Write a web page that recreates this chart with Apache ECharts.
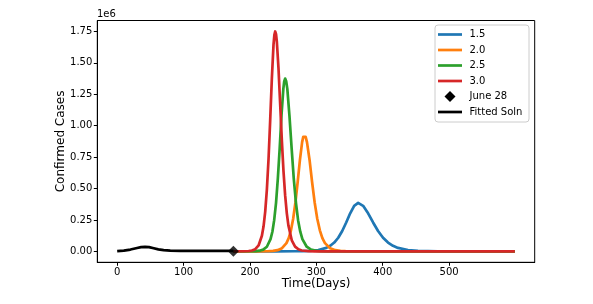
<!DOCTYPE html>
<html>
<head>
<meta charset="utf-8">
<script src="https://cdn.jsdelivr.net/npm/echarts@6/dist/echarts.min.js"></script>
<style>
html,body{margin:0;padding:0;background:#fff;}
#chart{width:593px;height:304px;}
</style>
</head>
<body>
<div id="chart"></div>
<script>
// Values in millions of confirmed cases (offset label "1e6"), x in days
const seriesNames = ['1.5', '2.0', '2.5', '3.0'];
const seriesColors = ['#1f77b4', '#ff7f0e', '#2ca02c', '#d62728'];

const blueData = [[175,0],[240,0.0001],[267,0.0005],[279,0.0014],[291,0.0038],[303,0.0102],[315,0.0272],[321,0.0438],[327,0.0696],[333,0.108],[339,0.1617],[345,0.2297],[351,0.3028],[357,0.3619],[363,0.385],[370.5,0.3619],[378,0.3028],[385.5,0.2297],[393,0.1617],[400.5,0.108],[408,0.0696],[415.5,0.0438],[423,0.0272],[438,0.0102],[453,0.0038],[468,0.0014],[483,0.0005],[513,0.0001],[599,0]];
const orangeData = [[175,0],[210,0.0002],[228,0.0012],[234.8,0.0034],[241.5,0.0091],[248.3,0.0246],[255,0.0654],[258.4,0.1053],[261.8,0.1671],[265.1,0.2594],[268.5,0.3885],[271.9,0.5519],[275.3,0.7274],[278.6,0.8695],[280.3,0.911],[282,0.925],[283.9,0.911],[285.9,0.8695],[289.8,0.7274],[293.6,0.5519],[297.5,0.3885],[301.4,0.2594],[305.3,0.1671],[309.1,0.1053],[313,0.0654],[320.8,0.0246],[328.5,0.0091],[336.3,0.0034],[344,0.0012],[359.5,0.0002],[599,0]];
const greenData = [[175,0],[195,0.0003],[209,0.0018],[214.5,0.005],[220,0.0136],[225.5,0.0366],[231,0.0972],[233.8,0.156],[236.5,0.248],[239.3,0.386],[242,0.578],[244.8,0.82],[247.5,1.081],[250.3,1.293],[251.6,1.353],[253,1.375],[254.6,1.354],[256.3,1.293],[259.5,1.081],[262.8,0.82],[266,0.578],[269.3,0.386],[272.5,0.248],[275.8,0.156],[279,0.0972],[285.5,0.0366],[292,0.0136],[298.5,0.005],[305,0.0018],[318,0.0002],[599,0]];
const redData = [[175,0],[190,0.0005],[198,0.0023],[203,0.0064],[208,0.0173],[213,0.0466],[218,0.124],[220.5,0.199],[223,0.316],[225.5,0.491],[228,0.735],[230.5,1.044],[233,1.376],[235.5,1.645],[236.8,1.723],[238,1.75],[239.3,1.729],[240.5,1.67],[243,1.456],[245.5,1.175],[248,0.887],[250.5,0.64],[253,0.447],[255.5,0.304],[258,0.203],[263,0.088],[268,0.0375],[273,0.0158],[278,0.0066],[288,0.0012],[298,0.0002],[599,0]];
const fittedData = [[0,0.002],[10,0.006],[20,0.014],[30,0.026],[36,0.033],[42,0.036],[48,0.033],[55,0.024],[62,0.015],[70,0.009],[80,0.006],[95,0.004],[120,0.003],[150,0.003],[175,0.003]];
const june28Point = [[175, 0]];

const xTicks = [0, 100, 200, 300, 400, 500];
const yTicks = [0, 0.25, 0.5, 0.75, 1.0, 1.25, 1.5, 1.75];

const FONT = 'DejaVu Sans';
const chart = echarts.init(document.getElementById('chart'), null, {renderer: 'canvas'});

const curveData = [blueData, orangeData, greenData, redData];
const series = curveData.map((d, i) => ({
  name: seriesNames[i], type: 'line', data: d, showSymbol: false,
  lineStyle: {color: seriesColors[i], width: 2.7, join: 'round', cap: 'butt'}, itemStyle: {color: seriesColors[i]},
  z: 2 + i, silent: true
}));
series.push({
  name: 'June 28', type: 'scatter', data: june28Point, symbol: 'diamond', symbolSize: 11,
  itemStyle: {color: '#000'}, z: 10, silent: true
});
series.push({
  name: 'Fitted Soln', type: 'line', data: fittedData, showSymbol: false,
  lineStyle: {color: '#000', width: 2.7, join: 'round', cap: 'butt'}, z: 11, silent: true
});

// legend drawn as graphic elements
const legendItems = [
  {label: '1.5', color: seriesColors[0], kind: 'line'},
  {label: '2.0', color: seriesColors[1], kind: 'line'},
  {label: '2.5', color: seriesColors[2], kind: 'line'},
  {label: '3.0', color: seriesColors[3], kind: 'line'},
  {label: 'June 28', color: '#000', kind: 'diamond'},
  {label: 'Fitted Soln', color: '#000', kind: 'line'}
];
const lg = [];
lg.push({type: 'rect', shape: {x: 435, y: 25, width: 94, height: 97, r: 3},
  style: {fill: 'rgba(255,255,255,0.8)', stroke: '#cccccc', lineWidth: 1}, z: 100});
legendItems.forEach((it, i) => {
  const cy = 34.5 + i * 15.5;
  if (it.kind === 'line') {
    lg.push({type: 'line', shape: {x1: 438, y1: cy, x2: 462, y2: cy},
      style: {stroke: it.color, lineWidth: 2.7}, z: 101});
  } else {
    lg.push({type: 'polygon', shape: {points: [[450, cy - 5.5], [455.5, cy], [450, cy + 5.5], [444.5, cy]]},
      style: {fill: it.color}, z: 101});
  }
  lg.push({type: 'text', x: 469.5, y: cy, style: {text: it.label, fill: '#000', font: '10px "DejaVu Sans"', verticalAlign: 'middle', align: 'left'}, z: 101});
});
lg.push({type: 'text', x: 97, y: 19.5, style: {text: '1e6', fill: '#000', font: '10px "DejaVu Sans"', verticalAlign: 'bottom', align: 'left'}, z: 101});

chart.setOption({
  animation: false,
  backgroundColor: '#fff',
  textStyle: {fontFamily: FONT},
  grid: {left: 97.3, right: 58.3, top: 20.5, bottom: 41.7, show: true, borderColor: '#000', borderWidth: 1, backgroundColor: 'transparent'},
  xAxis: {
    type: 'value', min: -29.95, max: 628.95,
    name: 'Time(Days)', nameLocation: 'middle', nameGap: 16, nameMoveOverlap: false,
    nameTextStyle: {fontSize: 12, color: '#000', fontFamily: FONT},
    axisLine: {show: true, onZero: false, lineStyle: {color: '#000', width: 1}},
    axisTick: {show: true, inside: false, length: 3.5, lineStyle: {color: '#000', width: 1}, customValues: xTicks},
    axisLabel: {show: true, margin: 5, fontSize: 10, color: '#000', fontFamily: FONT, customValues: xTicks, formatter: v => String(Math.round(v))},
    splitLine: {show: false}
  },
  yAxis: {
    type: 'value', min: -0.0875, max: 1.8375,
    name: 'Confirmed Cases', nameLocation: 'middle', nameGap: 30, nameMoveOverlap: false,
    nameTextStyle: {fontSize: 12, color: '#000', fontFamily: FONT},
    axisLine: {show: true, onZero: false, lineStyle: {color: '#000', width: 1}},
    axisTick: {show: true, inside: false, length: 3.5, lineStyle: {color: '#000', width: 1}, customValues: yTicks},
    axisLabel: {show: true, margin: 5, fontSize: 10, color: '#000', fontFamily: FONT, customValues: yTicks, formatter: v => v.toFixed(2)},
    splitLine: {show: false}
  },
  graphic: lg,
  series: series
});
</script>
</body>
</html>
